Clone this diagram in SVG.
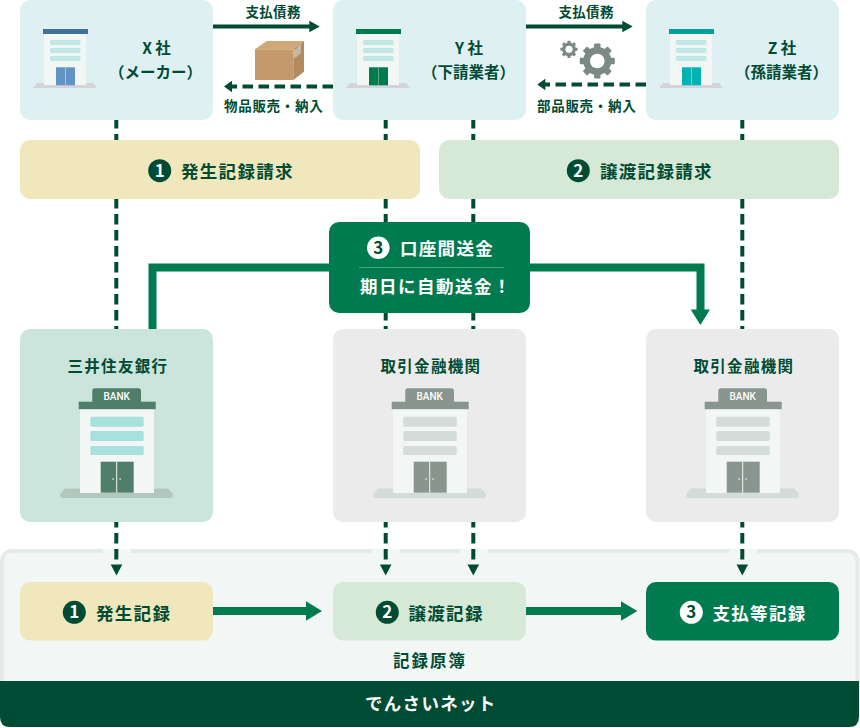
<svg xmlns="http://www.w3.org/2000/svg" width="860" height="728" viewBox="0 0 860 728">
<style>
text{font-family:"Noto Sans CJK JP","Noto Sans",sans-serif;font-weight:700;fill:#004b33}
.s13{font-size:13.500px;letter-spacing:.7px}
.s15{font-size:15.500px;letter-spacing:1.300px}
.s17{font-size:17.500px;letter-spacing:1.300px}
.w{fill:#fff}
.m{text-anchor:middle}
.num{font-size:17px;text-anchor:middle;fill:#fff}
.numd{font-size:17px;text-anchor:middle;fill:#004b33}
.bank{font-family:Roboto,"Liberation Sans",sans-serif;font-size:10px;font-weight:500;fill:#fff;text-anchor:middle}
.dash{fill:none;stroke:#004b33;stroke-width:4;stroke-dasharray:10.5 5.5}
.thin{fill:none;stroke:#004b33;stroke-width:4}
.thick{fill:none;stroke:#007a4f;stroke-width:8}
.dk{fill:#004b33}
.gr{fill:#007a4f}
.body{fill:#f2f6f5}
</style>
<defs>
<g id="sb">
<path d="M37 83H93L97 88H33Z" fill="#d3d4d9"/>
<rect class="body" x="44" y="34" width="42" height="51"/>
<rect x="50" y="40" width="30.500" height="5" rx="1" fill="#bfe8e6"/>
<rect x="50" y="48" width="30.500" height="5" rx="1" fill="#bfe8e6"/>
<rect x="50" y="56" width="30.500" height="5" rx="1" fill="#bfe8e6"/>
</g>
<g id="bb-base">
<path d="M65 488.500H168L173 494V495Q173 498 170 498H63Q60 498 60 495V494Z"/>
</g>
<g id="bb-body">
<rect class="body" x="80" y="409" width="74" height="84"/>
</g>
<g id="gear">
<circle r="14"/>
<rect x="-3.200" y="-17.500" width="6.400" height="35" rx="1"/>
<rect x="-3.200" y="-17.500" width="6.400" height="35" rx="1" transform="rotate(45)"/>
<rect x="-3.200" y="-17.500" width="6.400" height="35" rx="1" transform="rotate(90)"/>
<rect x="-3.200" y="-17.500" width="6.400" height="35" rx="1" transform="rotate(135)"/>
<circle r="7.300" fill="#fff"/>
</g>
</defs>

<g id="ledger">
<rect x="2" y="551" width="855.500" height="170" rx="10" fill="#f2f6f5" stroke="#e3ece9" stroke-width="4"/>
<rect class="body" x="103" y="549" width="28" height="4"/>
<rect class="body" x="372" y="549" width="28" height="4"/>
<rect class="body" x="460" y="549" width="28" height="4"/>
<rect class="body" x="729" y="549" width="28" height="4"/>
<path class="dk" d="M0 681H859V717Q859 727 849 727H10Q0 727 0 717Z"/>
<text class="s17 w" x="365" y="710">でんさいネット</text>
<text x="393" y="667" style="font-size:16.500px;letter-spacing:2px">記録原簿</text>
</g>

<g id="connectors">
<path class="dash" d="M116.300 118V330"/>
<path class="dash" d="M385.700 118V330"/>
<path class="dash" d="M473.300 118V330"/>
<path class="dash" d="M742.300 118V330"/>
<path class="dash" d="M116.300 517V563"/>
<path class="dash" d="M385.700 517V563"/>
<path class="dash" d="M473.300 517V563"/>
<path class="dash" d="M742.300 517V563"/>
<path class="dk" d="M110.700 564.500H122.300L116.500 575.500Z"/>
<path class="dk" d="M379.900 564.500H391.500L385.700 575.500Z"/>
<path class="dk" d="M467.500 564.500H479.100L473.300 575.500Z"/>
<path class="dk" d="M736.500 564.500H748.100L742.300 575.500Z"/>
<path class="thin" d="M213 26.500H310"/>
<path class="dk" d="M309.300 20.700L319.700 26.500L309.300 32.300Z"/>
<path class="thin" d="M526 26.500H623"/>
<path class="dk" d="M622.300 20.700L632.700 26.500L622.300 32.300Z"/>
<path class="dash" d="M333 86.500H232" stroke-dasharray="10 6"/>
<path class="dk" d="M224 86.500L232 80.700V92.300Z"/>
<path class="dash" d="M646 84.500H545" stroke-dasharray="10 6"/>
<path class="dk" d="M537.300 84.500L545.300 78.700V90.300Z"/>
<path class="thick" d="M152.500 330V267.500H329"/>
<path class="thick" d="M530 267.500H700.500V310"/>
<path class="gr" d="M690.700 309.500H710L700.400 325Z"/>
<path class="thick" d="M213 611H307"/>
<path class="gr" d="M306 601.300L322 611L306 620.700Z"/>
<path class="thick" d="M526 611H622"/>
<path class="gr" d="M621 601.300L637.300 611L621 620.700Z"/>
</g>

<g id="x-company">
<rect x="20" y="0" width="193" height="120" rx="10" fill="#dff0f3"/>
<use href="#sb"/>
<rect x="43" y="29" width="45" height="5" fill="#41709c"/>
<path d="M56 67.300H75V85.300H56Z" fill="#6293c3"/>
<path d="M65.500 67.300V85.300" stroke="#a9c4df" stroke-width="1"/>
<text class="m" x="156.500" y="54" style="font-size:15.500px">X 社</text>
<text class="m" x="155.500" y="78" style="font-size:15.500px">（メーカー）</text>
</g>
<g id="y-company">
<rect x="333" y="0" width="193" height="120" rx="10" fill="#dff0f3"/>
<use href="#sb" x="313"/>
<rect x="356" y="29" width="45" height="5" fill="#007a4f"/>
<path d="M369 67.300H388V85.300H369Z" fill="#007a4f"/>
<path d="M378.500 67.300V85.300" stroke="#5aa98c" stroke-width="1"/>
<text class="m" x="469" y="54" style="font-size:15.500px">Y 社</text>
<text class="m" x="468.500" y="78" style="font-size:15.500px">（下請業者）</text>
</g>
<g id="z-company">
<rect x="646" y="0" width="193" height="120" rx="10" fill="#dff0f3"/>
<use href="#sb" x="626"/>
<rect x="669" y="29" width="45" height="5" fill="#00a19b"/>
<path d="M682 67.300H701V85.300H682Z" fill="#00b3b3"/>
<path d="M691.500 67.300V85.300" stroke="#66d1d1" stroke-width="1"/>
<text class="m" x="782" y="54" style="font-size:15.500px">Z 社</text>
<text class="m" x="781.500" y="78" style="font-size:15.500px">（孫請業者）</text>
</g>

<g id="flow-labels">
<text class="s13" x="245.500" y="16.500" style="letter-spacing:.3px">支払債務</text>
<text class="s13" x="558.500" y="16.500" style="letter-spacing:.3px">支払債務</text>
<text class="s13" x="224" y="111">物品販売・納入</text>
<text class="s13" x="537" y="111">部品販売・納入</text>
</g>

<g id="box-icon">
<path d="M255 49.300L266.700 41H304L293.300 49.300Z" fill="#cfa878"/>
<path d="M255 49.300H293.300V80H255Z" fill="#c49a6c"/>
<path d="M293.300 49.300L304 41V71.700L293.300 80Z" fill="#b18a60"/>
<path d="M293 49.300H296L301 43V53L296 57.500L293 57.500Z" fill="#c7b8a4"/>
</g>
<g id="gear-icon" fill="#7b8a83">
<use href="#gear" transform="translate(597.300 61)"/>
<use href="#gear" transform="translate(569 49.300) scale(.49)"/>
</g>

<g id="request-1">
<rect x="20" y="140" width="400" height="59" rx="10" fill="#f1e7bc"/>
<circle class="dk" cx="159.700" cy="170.700" r="11.500"/>
<text class="num" x="159.700" y="176.500">1</text>
<text class="s17" x="181" y="178">発生記録請求</text>
</g>
<g id="request-2">
<rect x="439" y="140" width="400" height="59" rx="10" fill="#d6e9d6"/>
<circle class="dk" cx="578.300" cy="170.700" r="11.500"/>
<text class="num" x="578.300" y="176.500">2</text>
<text class="s17" x="600" y="178">譲渡記録請求</text>
</g>

<g id="transfer">
<rect x="329" y="222" width="201" height="91" rx="10" fill="#007a4f"/>
<circle cx="378.300" cy="247.700" r="11.300" fill="#fff"/>
<text class="numd" x="378.300" y="253.500">3</text>
<text class="s17 w" x="400" y="255">口座間送金</text>
<path d="M359 267.500H504" stroke="#4fa080" stroke-width="1"/>
<text class="s17 w" x="360" y="293" style="letter-spacing:1.500px">期日に自動送金！</text>
</g>

<g id="bank-smbc">
<rect x="20" y="329" width="193" height="193" rx="10" fill="#cbe4dc"/>
<text class="s15" x="67.500" y="372">三井住友銀行</text>
<use href="#bb-base" fill="#b2c8bf"/><use href="#bb-body"/>
<path d="M92.300 402V391Q92.300 388.300 95 388.300H138.300Q141 388.300 141 391V402Z" fill="#4f7f6b"/>
<rect x="78.700" y="401.700" width="77" height="7.500" fill="#4f7f6b"/>
<g fill="#a8e0dd">
<rect x="90.300" y="416.700" width="53.400" height="10" rx="1.500"/>
<rect x="90.300" y="431" width="53.400" height="10" rx="1.500"/>
<rect x="90.300" y="446" width="53.400" height="9" rx="1.500"/>
</g>
<rect x="100.700" y="461.700" width="33" height="31" fill="#4f7f6b"/>
<path d="M116.700 461.700V492.700" stroke="#f2f6f5" stroke-width="1"/>
<path d="M112.300 479H114M119.300 479H121" stroke="#fff" stroke-width="1.200"/>
<text class="bank" x="116.700" y="400">BANK</text>
</g>
<g id="bank-y">
<rect x="333" y="329" width="193" height="193" rx="10" fill="#ebebeb"/>
<text class="s15" x="380.500" y="372">取引金融機関</text>
<g transform="translate(313 0)">
<use href="#bb-base" fill="#d4dcd9"/><use href="#bb-body"/>
<path d="M92.300 402V391Q92.300 388.300 95 388.300H138.300Q141 388.300 141 391V402Z" fill="#89958f"/>
<rect x="78.700" y="401.700" width="77" height="7.500" fill="#89958f"/>
<g fill="#d4dcd9">
<rect x="90.300" y="416.700" width="53.400" height="10" rx="1.500"/>
<rect x="90.300" y="431" width="53.400" height="10" rx="1.500"/>
<rect x="90.300" y="446" width="53.400" height="9" rx="1.500"/>
</g>
<rect x="100.700" y="461.700" width="33" height="31" fill="#89958f"/>
<path d="M116.700 461.700V492.700" stroke="#f2f6f5" stroke-width="1"/>
<path d="M112.300 479H114M119.300 479H121" stroke="#fff" stroke-width="1.200"/>
<text class="bank" x="116.700" y="400">BANK</text>
</g>
</g>
<g id="bank-z">
<rect x="646" y="329" width="193" height="193" rx="10" fill="#ebebeb"/>
<text class="s15" x="693.500" y="372">取引金融機関</text>
<g transform="translate(626 0)">
<use href="#bb-base" fill="#d4dcd9"/><use href="#bb-body"/>
<path d="M92.300 402V391Q92.300 388.300 95 388.300H138.300Q141 388.300 141 391V402Z" fill="#89958f"/>
<rect x="78.700" y="401.700" width="77" height="7.500" fill="#89958f"/>
<g fill="#d4dcd9">
<rect x="90.300" y="416.700" width="53.400" height="10" rx="1.500"/>
<rect x="90.300" y="431" width="53.400" height="10" rx="1.500"/>
<rect x="90.300" y="446" width="53.400" height="9" rx="1.500"/>
</g>
<rect x="100.700" y="461.700" width="33" height="31" fill="#89958f"/>
<path d="M116.700 461.700V492.700" stroke="#f2f6f5" stroke-width="1"/>
<path d="M112.300 479H114M119.300 479H121" stroke="#fff" stroke-width="1.200"/>
<text class="bank" x="116.700" y="400">BANK</text>
</g>
</g>

<g id="record-1">
<rect x="20" y="582" width="193" height="58.500" rx="10" fill="#f1e7bc"/>
<circle class="dk" cx="74.300" cy="612.300" r="11.500"/>
<text class="num" x="74.300" y="618">1</text>
<text class="s17" x="96" y="620">発生記録</text>
</g>
<g id="record-2">
<rect x="333" y="582" width="193" height="58.500" rx="10" fill="#d6e9d6"/>
<circle class="dk" cx="387.300" cy="612.300" r="11.500"/>
<text class="num" x="387.300" y="618">2</text>
<text class="s17" x="408.500" y="620">譲渡記録</text>
</g>
<g id="record-3">
<rect x="646" y="582" width="193" height="58.500" rx="10" fill="#007a4f"/>
<circle cx="691.300" cy="612.300" r="11.500" fill="#fff"/>
<text class="numd" x="691.300" y="618">3</text>
<text class="s17 w" x="712.500" y="620">支払等記録</text>
</g>
</svg>
